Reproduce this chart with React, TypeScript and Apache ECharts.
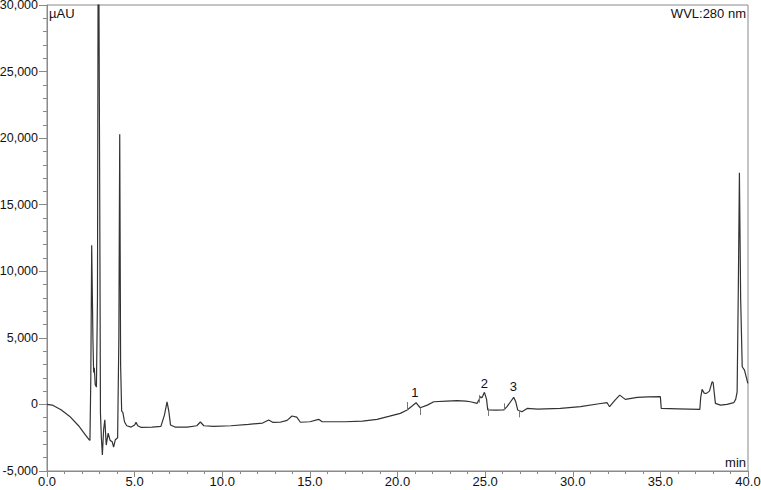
import React, { useEffect, useRef } from "react";
import * as echarts from "echarts";

// Retention time (min) and detector signal (µAU)
const times = [
  0.0, 0.3, 0.8, 1.3, 1.8, 2.2, 2.4, 2.45, 2.5, 2.55, 2.62, 2.66, 2.7, 2.75, 2.82, 2.88, 2.93, 2.97, 3.01,
  3.05, 3.1, 3.16, 3.23, 3.3, 3.38, 3.49, 3.6, 3.72, 3.8, 3.9, 4.03, 4.1, 4.15, 4.2, 4.26, 4.33, 4.42,
  4.55, 4.8, 5.0, 5.08, 5.18, 5.35, 6.0, 6.5, 6.7, 6.85, 6.95, 7.05, 7.3, 8.0, 8.55, 8.75, 8.95, 9.5,
  10.5, 11.5, 12.3, 12.65, 12.9, 13.3, 13.7, 13.98, 14.25, 14.46, 15.0, 15.5, 15.7, 17.0, 18.0, 18.83,
  19.5, 20.16, 20.55, 20.85, 21.06, 21.2, 21.3, 21.7, 22.07, 22.8, 23.4, 23.9, 24.16, 24.54, 24.65,
  24.73, 24.82, 24.96, 25.08, 25.15, 25.6, 26.06, 26.25, 26.45, 26.63, 26.75, 26.86, 27.1, 27.4, 28.0,
  29.3, 30.44, 31.5, 31.96, 32.1, 32.4, 32.68, 33.0, 33.68, 34.3, 35.0, 35.05, 36.0, 37.25, 37.3, 37.38,
  37.5, 37.63, 37.8, 37.95, 38.01, 38.14, 38.43, 38.8, 39.19, 39.3, 39.38, 39.45, 39.51, 39.58, 39.67,
  39.8, 39.99,
];
const signal = [
  0, -50, -400, -900, -1600, -2300, -2650, -2700, 2000, 11950, 5000, 2400, 2750, 1500, 1300, 8000, 42000, 42000, 15000,
  -650, -2450, -3800, -1900, -1150, -3050, -2150, -2700, -2800, -3200, -2650, -2500, 5000, 20300, 3000, -500, -600, -1300,
  -1600, -1700, -1550, -1350, -1600, -1720, -1700, -1650, -800, 200, -500, -1550, -1700, -1700, -1600, -1320, -1600, -1650,
  -1600, -1500, -1400, -1170, -1350, -1340, -1200, -870, -950, -1340, -1300, -1120, -1300, -1300, -1250, -1120,
  -900, -670, -420, -100, 130, -100, -250, -50, 200, 250, 280, 250, 200, 80, 350,
  580, 500, 910, 400, -420, -430, -420, -170, 200, 530, 200, -420, -550, -300, -350,
  -300, -170, 50, 130, -170, 300, 700, 380, 530, 560, 580, -300, -330, -370, 500, 1130,
  850, 830, 1000, 1700, 1650, 80, -50, 0, 130, 400, 950, 9000, 17400, 8000, 2830,
  2580, 1580,
];

// Integrated peak labels
const peakNames = ["1", "2", "3"];
const peakLabelTimes = [20.99, 24.96, 26.61];
const peakLabelValues = [930, 1600, 1380];

// Peak delimiter ticks: [time, valueTop, valueBottom]
const delimiterTimes = [20.55, 21.27, 24.67, 25.15, 26.1, 26.92];
const delimiterTops = [180, -250, 700, -300, 80, -420];
const delimiterBottoms = [-420, -800, 130, -870, -420, -970];

const xTicks = [0, 5, 10, 15, 20, 25, 30, 35, 40];
const yTicks = [-5000, 0, 5000, 10000, 15000, 20000, 25000, 30000];

const FONT = "Liberation Sans, Arial, sans-serif";
const AXIS = "#8a8a8a";

export default function App() {
  const ref = useRef<HTMLDivElement>(null);
  useEffect(() => {
    if (!ref.current) return;
    const chart = echarts.init(ref.current, null, { renderer: "svg" });
    const data = times.map((t, i) => [t, signal[i]]);
    chart.setOption({
      animation: false,
      grid: {
        left: 47,
        right: 13,
        top: 5,
        bottom: 19,
        show: true,
        borderColor: AXIS,
        borderWidth: 1,
        backgroundColor: "transparent",
        outerBoundsMode: "none",
      },
      xAxis: {
        type: "value",
        min: xTicks[0],
        max: xTicks[xTicks.length - 1],
        interval: 5,
        axisLine: { show: true, onZero: false, lineStyle: { color: AXIS, width: 1 } },
        axisTick: { show: true, length: 6, lineStyle: { color: AXIS } },
        minorTick: { show: true, splitNumber: 5, length: 3, lineStyle: { color: AXIS } },
        splitLine: { show: false },
        axisLabel: {
          color: "#111",
          fontFamily: FONT,
          fontSize: 13,
          margin: 4,
          formatter: (v: number) => v.toFixed(1),
        },
      },
      yAxis: {
        type: "value",
        min: yTicks[0],
        max: yTicks[yTicks.length - 1],
        interval: 5000,
        axisLine: { show: true, onZero: false, lineStyle: { color: AXIS, width: 1 } },
        axisTick: { show: true, length: 8, lineStyle: { color: AXIS } },
        minorTick: { show: true, splitNumber: 5, length: 4, lineStyle: { color: AXIS } },
        splitLine: { show: false },
        axisLabel: {
          color: "#111",
          fontFamily: FONT,
          fontSize: 12.5,
          margin: 9,
          formatter: (v: number) => v.toLocaleString("en-US"),
        },
      },
      series: [
        {
          type: "line",
          data,
          showSymbol: false,
          symbol: "none",
          clip: true,
          lineStyle: { color: "#333", width: 1.2 },
          markLine: {
            silent: true,
            symbol: "none",
            animation: false,
            label: { show: false },
            lineStyle: { color: "#777", width: 1, type: "solid" },
            data: delimiterTimes.map((t, i) => [
              { coord: [t, delimiterTops[i]] },
              { coord: [t, delimiterBottoms[i]] },
            ]),
          },
          markPoint: {
            silent: true,
            symbol: "circle",
            symbolSize: 1,
            itemStyle: { color: "rgba(0,0,0,0)" },
            label: {
              show: true,
              position: "inside",
              formatter: "{b}",
              color: "#111",
              fontFamily: FONT,
              fontSize: 13,
            },
            data: peakNames.map((n, i) => ({
              name: n,
              coord: [peakLabelTimes[i], peakLabelValues[i]],
            })),
          },
        },
      ],
      graphic: [
        {
          type: "text",
          left: 49,
          top: 7,
          style: { text: "µAU", fontFamily: FONT, fontSize: 13, fill: "#111" },
        },
        {
          type: "text",
          right: 15,
          top: 7,
          style: { text: "WVL:280 nm", fontFamily: FONT, fontSize: 13, fill: "#111" },
        },
        {
          type: "text",
          right: 15,
          top: 456,
          style: { text: "min", fontFamily: FONT, fontSize: 13, fill: "#111" },
        },
      ],
    });
    return () => chart.dispose();
  }, []);
  return (
    <div
      ref={ref}
      style={{ position: "fixed", left: 0, top: 0, width: 761, height: 490, background: "#fff" }}
    />
  );
}
